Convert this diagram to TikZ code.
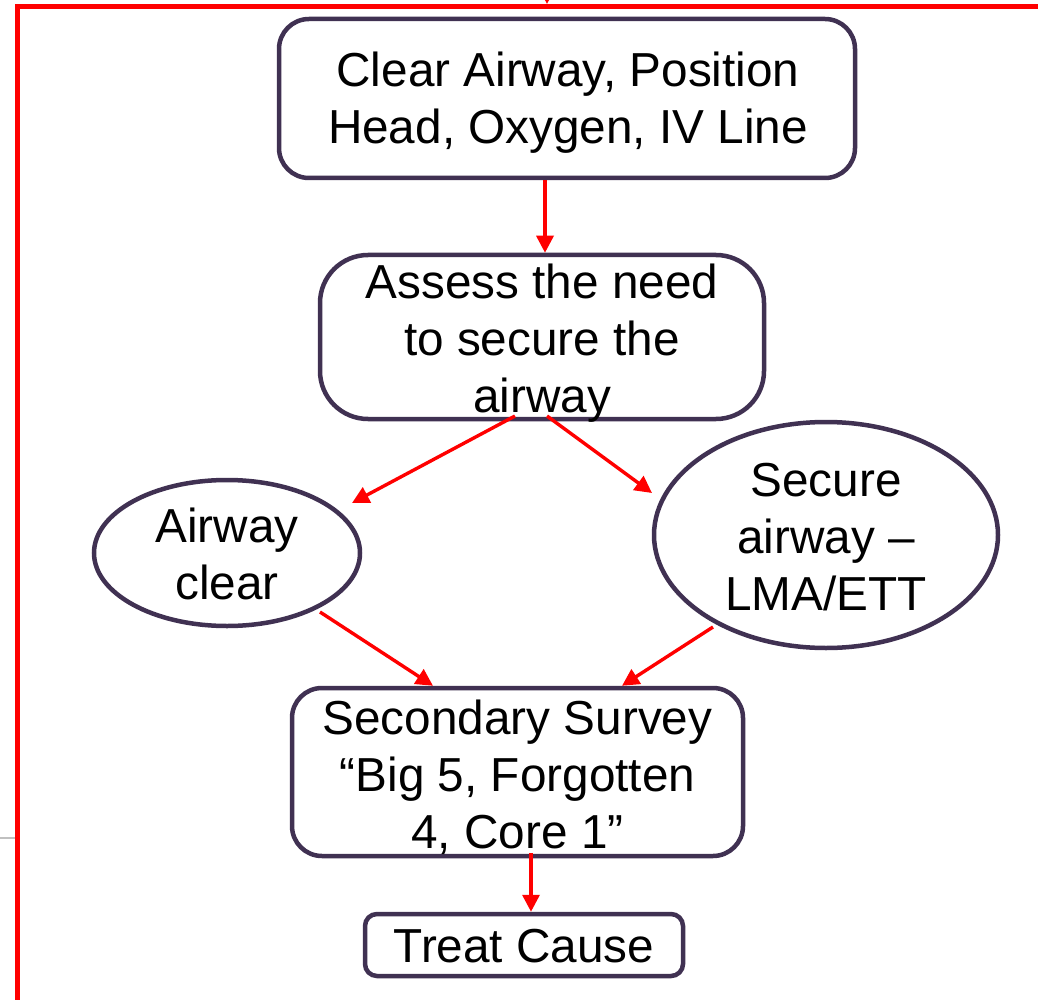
\documentclass[tikz,border=0pt]{standalone}
\usepackage{fontspec}
\setmainfont{Liberation Sans}
\usetikzlibrary{arrows.meta,calc,shapes.geometric}
\definecolor{edgepurple}{RGB}{64,49,82}
\definecolor{framered}{RGB}{255,0,0}
\definecolor{stubgray}{RGB}{192,192,192}
\tikzset{
  txt/.style={font=\fontsize{47.7}{57}\selectfont, align=center, inner sep=0pt},
  boxshape/.style={draw=edgepurple, line width=4.5pt, fill=white, inner sep=0pt, rectangle},
  ovalshape/.style={draw=edgepurple, line width=4.5pt, fill=white, inner sep=0pt, ellipse},
  arr/.style={draw=framered, line width=3.4pt, -{Triangle[length=17pt,width=17pt]}},
  frameline/.style={draw=framered, line width=5.5pt, line join=miter},
}
\begin{document}
\begin{tikzpicture}[x=1pt,y=-1pt]
\useasboundingbox (0,0) rectangle (1038,1000);
% frame fragments
\coordinate (fa) at (17.5,1005);
\coordinate (fb) at (17.5,6.5);
\coordinate (fc) at (1045,6.5);
\draw[frameline] (fa) -- (fb) -- (fc);
\coordinate (ga) at (-5,838);
\coordinate (gb) at (15,838);
\draw[stubgray, line width=2pt] (ga) -- (gb);
\coordinate (ta) at (547,-40);
\coordinate (tb) at (547,4);
\draw[arr] (ta) -- (tb);
% nodes
\node[boxshape, rounded corners=30pt, minimum width=576pt, minimum height=159pt] (b1) at (567,98.5) {};
\node[txt] (t1) at (568,103) {Clear Airway, Position\\Head, Oxygen, IV Line};
\node[boxshape, rounded corners=48pt, minimum width=444pt, minimum height=164pt] (b2) at (542,337) {};
\node[txt] (t2) at (542,343) {Assess the need\\to secure the\\airway};
\node[ovalshape, minimum width=266pt, minimum height=146pt] (e1) at (227,553) {};
\node[txt] (t5) at (227,554) {Airway\\clear};
\node[ovalshape, minimum width=344pt, minimum height=226pt] (e2) at (826,535) {};
\node[txt] (t3) at (826,537) {Secure\\airway –\\LMA/ETT};
\node[boxshape, rounded corners=30pt, minimum width=451pt, minimum height=168pt] (b4) at (517.5,772) {};
\node[txt] (t4) at (517.5,777) {Secondary Survey\\“Big 5, Forgotten\\4, Core 1”};
\node[boxshape, rounded corners=12pt, minimum width=318pt, minimum height=62pt] (b5) at (524,945) {};
\node[txt] (t6) at (524,946) {Treat Cause};
% connectors
\draw[arr] ([xshift=-22pt]b1.south) -- ([xshift=3pt]b2.north);
\draw[arr] ($(b2.center)+(-27,79)$) -- ($(e1.center)+(125,-50)$);
\draw[arr] ($(b2.center)+(5,79)$) -- ($(e2.center)+(-174,-42)$);
\draw[arr] ($(e1.center)+(93,59)$) -- ([xshift=-84.5pt]b4.north);
\draw[arr] ($(e2.center)+(-113,92)$) -- ([xshift=104.5pt]b4.north);
\draw[arr] ($(b4.center)+(13.5,81)$) -- ([xshift=7pt]b5.north);
\end{tikzpicture}
\end{document}
